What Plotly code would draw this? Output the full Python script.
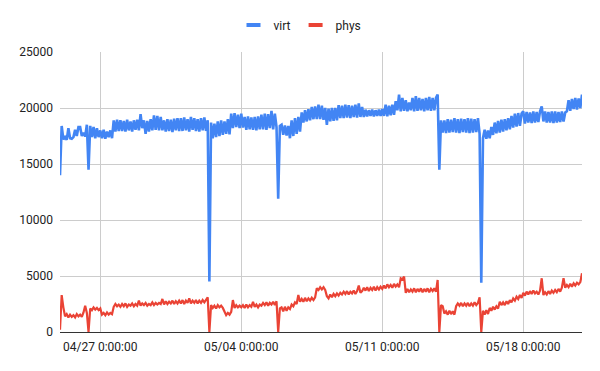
import pandas as pd
import plotly.graph_objects as go

# Samples every 2 hours starting 04/25 0:00 (12 samples per day)
start = "2024-04-25 00:00"
virt = [
    14000, 18400, 17200, 17400, 17150, 18200, 17300, 17250, 17400, 18050, 17500, 18300,  # 04/25
    18300, 17500, 17800, 17450, 18500, 14500, 18400, 17400, 18300, 17300, 18200, 17400,  # 04/26
    18000, 17300, 18050, 17250, 17900, 17400, 18000, 17300, 18900, 17900, 18950, 17950,  # 04/27
    18900, 17950, 18850, 17900, 18950, 18000, 18800, 17900, 18900, 18050, 18950, 18000,  # 04/28
    19450, 18200, 18900, 17700, 18850, 17900, 19000, 18000, 19350, 18050, 19300, 18000,  # 04/29
    19200, 18000, 18900, 17900, 19000, 17950, 18950, 17850, 19050, 18000, 19100, 17950,  # 04/30
    19100, 17950, 19150, 18000, 19000, 17900, 19200, 18050, 19100, 17950, 19000, 17900,  # 05/01
    19100, 18000, 19150, 17950, 18900, 4500, 18700, 17300, 18600, 17400, 18800, 17500,   # 05/02
    18900, 17600, 18800, 17700, 19000, 17650, 19500, 18200, 19550, 18300, 19400, 18200,  # 05/03
    19500, 18250, 19200, 18050, 19250, 18100, 19150, 18050, 19200, 18000, 19250, 18100,  # 05/04
    19400, 18100, 19500, 18050, 19450, 18200, 19750, 18100, 19500, 18300, 11900, 18400,  # 05/05
    18500, 17600, 18450, 17550, 18400, 17300, 18900, 17500, 19100, 17700, 19200, 17900,  # 05/06
    19600, 18700, 19800, 18800, 19900, 18900, 20100, 19000, 20150, 19000, 20300, 19000,  # 05/07
    20200, 18950, 20000, 18500, 19950, 18800, 20000, 18850, 20000, 18900, 20250, 19100,  # 05/08
    20200, 19100, 20300, 19150, 20250, 19100, 20200, 19200, 20300, 19150, 20400, 19200,  # 05/09
    20100, 19200, 19850, 19250, 19800, 19300, 19850, 19250, 19800, 19300, 19850, 19300,  # 05/10
    19900, 19300, 20300, 19250, 20200, 19350, 20300, 19400, 20600, 19800, 21200, 19700,  # 05/11
    20900, 19750, 20700, 19700, 20500, 19800, 20900, 19700, 21050, 19750, 20900, 19800,  # 05/12
    20800, 19700, 20900, 19800, 21000, 19750, 20900, 19800, 20900, 21200, 14500, 18900,  # 05/13
    17800, 18900, 17750, 19000, 17800, 18950, 17850, 19100, 17800, 19000, 17750, 19050,  # 05/14
    17850, 19000, 17800, 19100, 17750, 19050, 17800, 19000, 17850, 19100, 17700, 4400,   # 05/15
    17300, 18050, 17250, 18000, 17300, 18300, 17600, 18700, 17750, 18850, 17800, 18950,  # 05/16
    17900, 19000, 18000, 19100, 18100, 19300, 18250, 19500, 18350, 19550, 18400, 19500,  # 05/17
    19700, 18600, 19650, 18700, 19600, 18650, 19700, 18700, 19650, 18750, 19700, 20150,  # 05/18
    18800, 19700, 18700, 19650, 18700, 19700, 18650, 19700, 18700, 19650, 18750, 19700,  # 05/19
    18800, 19600, 19700, 20700, 19750, 20800, 19900, 20900, 19850, 20850, 20000, 21200,  # 05/20
]
phys = [
    200, 3300, 2200, 1400, 1600, 1300, 1550, 1350, 1500, 1300, 1600, 1400,  # 04/25
    1550, 1350, 1750, 2350, 1700, 0, 2100, 1950, 2200, 2000, 2150, 1950,    # 04/26
    2100, 1550, 1700, 1500, 1750, 1550, 1700, 1600, 2250, 2500, 2300, 2450, # 04/27
    2250, 2500, 2300, 2550, 2250, 2450, 2350, 2550, 2300, 2500, 2350, 2800, # 04/28
    2350, 2550, 2400, 2600, 2350, 2500, 2400, 2650, 2400, 2600, 2450, 2600, # 04/29
    2500, 2950, 2450, 2750, 2500, 2700, 2550, 2800, 2500, 2750, 2550, 2800, # 04/30
    2550, 2850, 2500, 2800, 2600, 3000, 2550, 2800, 2600, 2850, 2550, 2800, # 05/01
    2600, 2850, 2650, 2900, 3100, 0, 2400, 2150, 2350, 2100, 2400, 2200,    # 05/02
    2350, 2150, 1750, 1500, 1700, 1550, 1800, 2850, 2150, 2400, 2200, 2350, # 05/03
    2200, 2400, 2150, 2450, 2200, 2400, 2250, 2700, 2250, 2450, 2200, 2450, # 05/04
    2350, 2600, 2400, 2650, 2350, 2600, 2450, 2700, 2400, 2750, 0, 2100,    # 05/05
    2200, 1850, 2250, 1900, 2200, 2050, 2450, 2300, 2650, 2500, 3300, 2700, # 05/06
    2950, 2700, 3050, 2750, 3000, 2800, 3050, 2850, 3100, 3900, 3750, 4000, # 05/07
    3800, 4000, 3750, 3200, 3000, 3350, 3100, 3400, 3200, 3450, 3250, 3500, # 05/08
    3350, 3600, 3400, 3650, 3350, 3600, 3450, 3700, 3400, 3650, 4150, 3500, # 05/09
    3650, 3950, 3700, 4000, 3650, 3950, 3750, 4050, 3700, 4000, 3800, 4050, # 05/10
    3850, 4150, 3900, 4250, 4000, 4200, 3950, 4300, 4050, 4250, 4000, 4800, # 05/11
    4700, 4950, 3500, 3850, 3550, 3800, 3600, 3900, 3550, 3850, 3600, 3900, # 05/12
    3550, 3850, 3600, 3900, 3550, 3850, 3650, 3900, 3600, 4650, 0, 2400,    # 05/13
    2300, 1650, 1850, 1550, 1900, 1600, 1850, 1550, 2300, 2550, 2350, 2600, # 05/14
    2300, 2550, 2350, 2600, 2300, 2550, 2350, 2650, 2400, 2600, 3100, 0,    # 05/15
    1900, 1550, 1950, 1600, 2150, 1900, 2250, 2000, 2300, 2100, 2700, 2400, # 05/16
    2650, 2400, 2750, 2500, 2850, 2650, 3000, 2800, 3150, 2950, 3300, 3050, # 05/17
    3500, 3250, 3600, 3350, 3650, 3400, 3700, 3450, 3600, 3350, 3700, 4800, # 05/18
    3300, 3550, 3350, 3650, 3400, 3700, 3500, 3750, 3550, 3850, 3600, 3950, # 05/19
    4800, 3950, 4200, 4000, 4300, 4050, 4350, 4150, 4400, 4250, 4450, 5250, # 05/20
]
times = pd.date_range(start, periods=len(virt), freq="2h")

x_tick_dates = ["2024-04-27", "2024-05-04", "2024-05-11", "2024-05-18"]
x_tick_labels = ["04/27 0:00:00", "05/04 0:00:00", "05/11 0:00:00", "05/18 0:00:00"]
y_ticks = [0, 5000, 10000, 15000, 20000, 25000]

BLUE = "#4285F4"
RED = "#EA4335"
FONT = "Roboto, Arial, sans-serif"

fig = go.Figure()
fig.add_trace(go.Scatter(x=times, y=virt, mode="lines", name="virt",
                         line=dict(color=BLUE, width=2.6), showlegend=False))
fig.add_trace(go.Scatter(x=times, y=phys, mode="lines", name="phys",
                         line=dict(color=RED, width=2.2), showlegend=False))
# legend entries (short thick bars like the original)
for nm, col in [("virt", BLUE), ("phys", RED)]:
    fig.add_trace(go.Scatter(x=[None], y=[None], mode="markers", name=nm,
                             marker=dict(symbol="line-ew", size=10, color=col,
                                         line=dict(color=col, width=4))))

fig.update_layout(
    width=600, height=371,
    margin=dict(l=60, r=18, t=52, b=39, autoexpand=False),
    paper_bgcolor="white", plot_bgcolor="white",
    font=dict(family=FONT, size=12, color="#222222"),
    showlegend=True,
    legend=dict(orientation="h", xref="container", x=0.5, xanchor="center",
                y=1.096, yanchor="middle",
                font=dict(size=12, color="#222222"), itemwidth=30, tracegroupgap=0),
)
fig.update_xaxes(
    range=[times[0], times[-1]],
    tickvals=x_tick_dates, ticktext=x_tick_labels,
    showgrid=True, gridcolor="#cccccc", gridwidth=1,
    showline=True, linecolor="#333333", linewidth=1,
    zeroline=False, ticks="", tickfont=dict(size=12),
    ticklabelstandoff=4,
)
fig.update_yaxes(
    range=[0, 25000], tickvals=y_ticks, tickformat="d",
    showgrid=True, gridcolor="#cccccc", gridwidth=1,
    zeroline=False, showline=False, ticks="",
    tickfont=dict(size=12), ticklabelstandoff=6,
)
fig.write_html("out.html", config={"displayModeBar": False},
               post_script="document.body.style.margin='0';document.body.style.overflow='hidden';")
